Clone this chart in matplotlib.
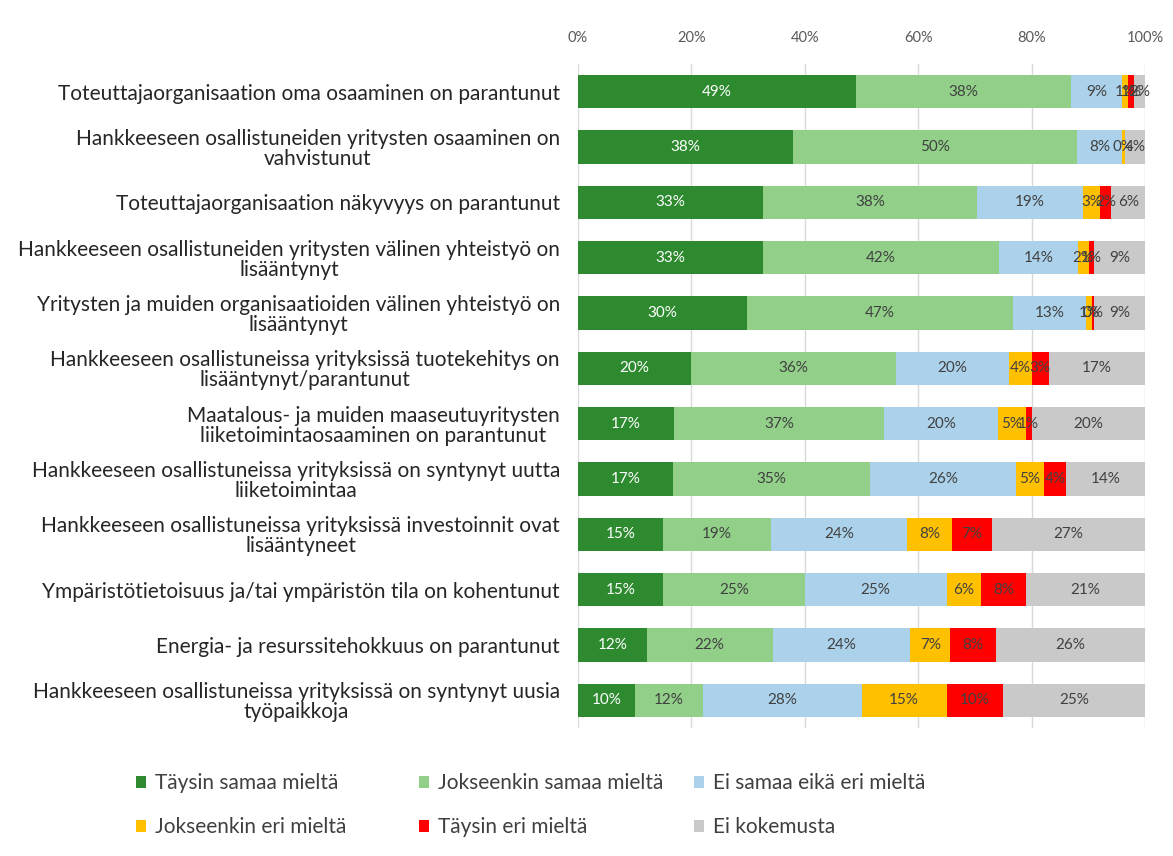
import matplotlib
matplotlib.use("Agg")
import matplotlib.pyplot as plt
import numpy as np

plt.rcParams['font.family'] = ['Lato', 'DejaVu Sans']

categories = [
    "Toteuttajaorganisaation oma osaaminen on parantunut",
    "Hankkeeseen osallistuneiden yritysten osaaminen on\nvahvistunut",
    "Toteuttajaorganisaation näkyvyys on parantunut",
    "Hankkeeseen osallistuneiden yritysten välinen yhteistyö on\nlisääntynyt",
    "Yritysten ja muiden organisaatioiden välinen yhteistyö on\nlisääntynyt",
    "Hankkeeseen osallistuneissa yrityksissä tuotekehitys on\nlisääntynyt/parantunut",
    "Maatalous- ja muiden maaseutuyritysten\nliiketoimintaosaaminen on parantunut",
    "Hankkeeseen osallistuneissa yrityksissä on syntynyt uutta\nliiketoimintaa",
    "Hankkeeseen osallistuneissa yrityksissä investoinnit ovat\nlisääntyneet",
    "Ympäristötietoisuus ja/tai ympäristön tila on kohentunut",
    "Energia- ja resurssitehokkuus on parantunut",
    "Hankkeeseen osallistuneissa yrityksissä on syntynyt uusia\ntyöpaikkoja",
]

series_names = ["Täysin samaa mieltä", "Jokseenkin samaa mieltä", "Ei samaa eikä eri mieltä",
                "Jokseenkin eri mieltä", "Täysin eri mieltä", "Ei kokemusta"]

taysin_samaa = [49, 38, 33, 33, 30, 20, 17, 17, 15, 15, 12, 10]
jokseenkin_samaa = [38, 50, 38, 42, 47, 36, 37, 35, 19, 25, 22, 12]
ei_samaa_eika_eri = [9, 8, 19, 14, 13, 20, 20, 26, 24, 25, 24, 28]
jokseenkin_eri = [1, 0.4, 3, 2, 1, 4, 5, 5, 8, 6, 7, 15]
taysin_eri = [1, 0, 2, 1, 0.4, 3, 1, 4, 7, 8, 8, 10]
ei_kokemusta = [2, 3.6, 6, 9, 9, 17, 20, 14, 27, 21, 26, 25]

colors = ["#2e8a2f", "#92d08a", "#acd2eb", "#ffc000", "#ff0000", "#c9c9c9"]
text_colors = ["white", "#404040", "#404040", "#404040", "#404040", "#404040"]

data = np.array([taysin_samaa, jokseenkin_samaa, ei_samaa_eika_eri,
                 jokseenkin_eri, taysin_eri, ei_kokemusta], dtype=float)
totals = data.sum(axis=0)
widths = data / totals * 100

fig = plt.figure(figsize=(11.73, 8.56), dpi=100)
ax = fig.add_axes([578/1173, 1 - 728/856, (1145-578)/1173, (728-64)/856])

y = np.arange(len(categories))
left = np.zeros(len(categories))
handles = []
for i, name in enumerate(series_names):
    h = ax.barh(y, widths[i], left=left, height=0.6, color=colors[i], label=name, zorder=2)
    handles.append(h)
    for j in range(len(categories)):
        v = data[i, j]
        if v > 0:
            ax.text(left[j] + widths[i, j] / 2, y[j], f"{v:.0f}%", ha='center', va='center',
                    fontsize=11, color=text_colors[i], zorder=3)
    left += widths[i]

ax.set_xlim(0, 100)
ax.set_ylim(len(categories) - 0.5, -0.5)
ax.xaxis.tick_top()
ax.set_xticks([0, 20, 40, 60, 80, 100])
ax.set_xticklabels([f"{t}%" for t in [0, 20, 40, 60, 80, 100]], fontsize=10.5, color="#595959")
ax.tick_params(axis='x', length=0, pad=14)
ax.tick_params(axis='y', length=0, pad=13)
ax.set_yticks(y)
ax.set_yticklabels(categories, fontsize=15, color="#262626", multialignment='center',
                   linespacing=1.0)
ax.grid(axis='x', color="#d9d9d9", linewidth=1, zorder=0)
for s in ax.spines.values():
    s.set_visible(False)

# legend: three columns at fixed positions, row-major order
col_x = [136/1173, 419/1173, 694/1173]
for c in range(3):
    leg = fig.legend([handles[c], handles[c + 3]], [series_names[c], series_names[c + 3]],
                     loc='upper left', bbox_to_anchor=(col_x[c], 1 - 773/856),
                     frameon=False, fontsize=15, handlelength=0.5, handleheight=0.5,
                     labelspacing=1.15, handletextpad=0.4, borderpad=0, borderaxespad=0,
                     labelcolor="#404040")

fig.savefig("out.png", dpi=100, facecolor="white")
